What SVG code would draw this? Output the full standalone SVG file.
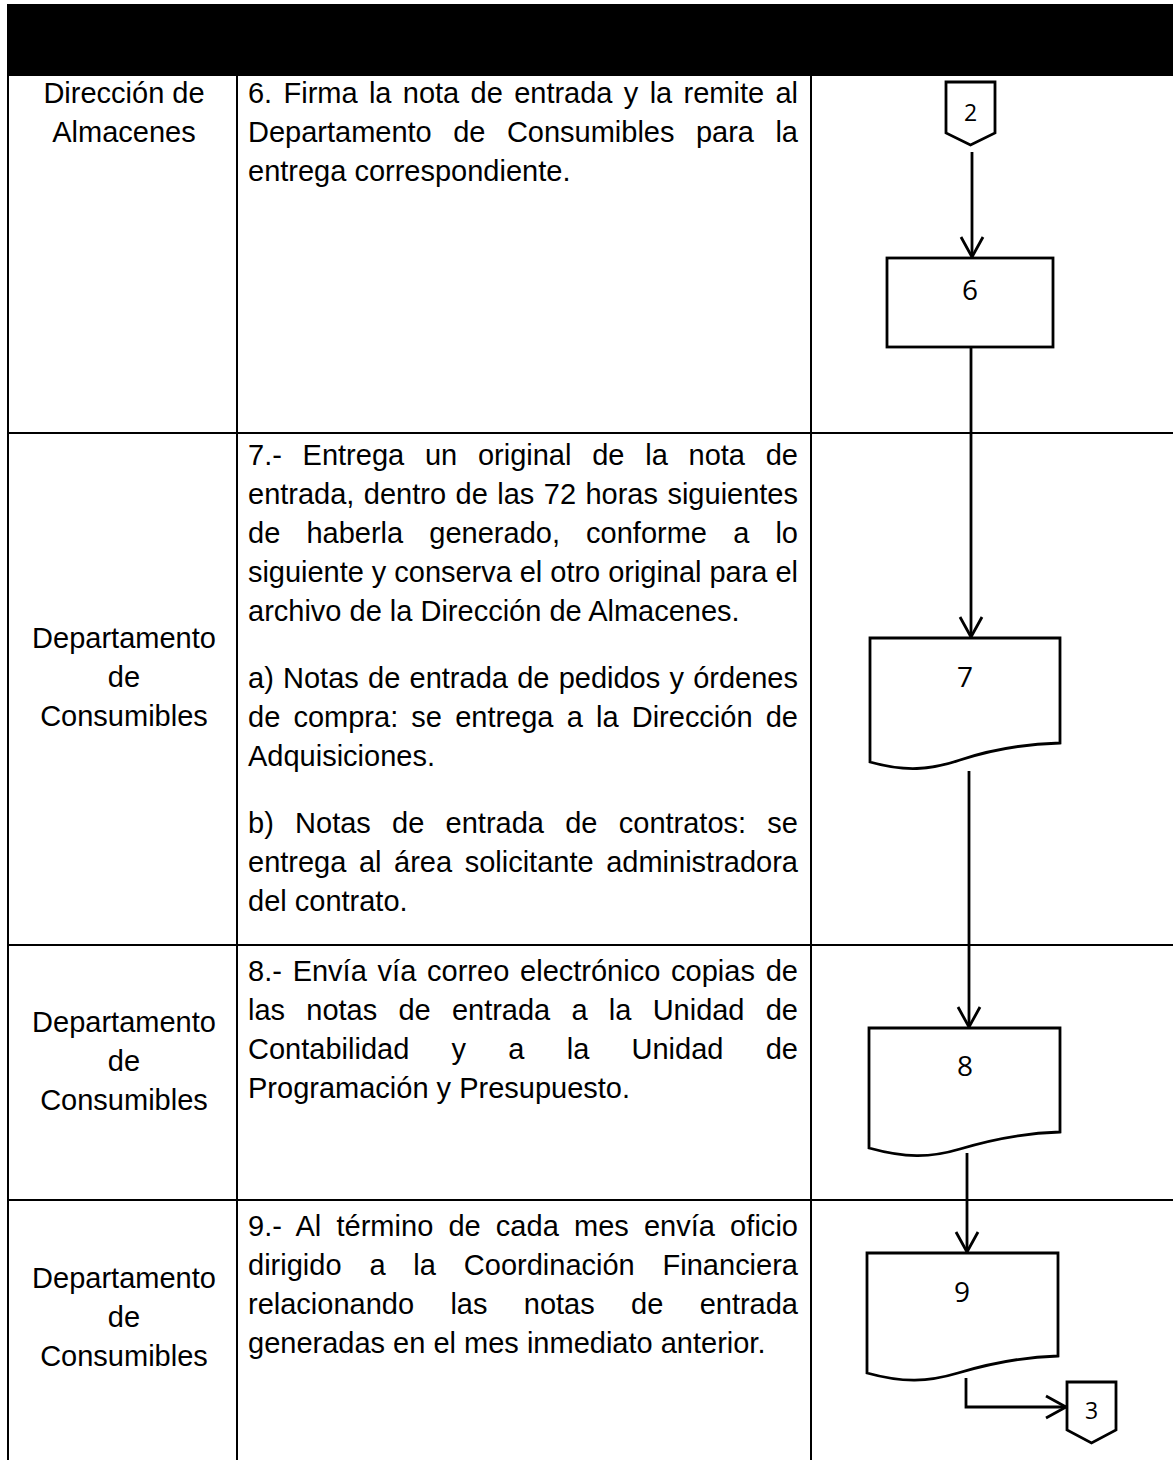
<svg xmlns="http://www.w3.org/2000/svg" width="1173" height="1460" viewBox="0 0 1173 1460">
<style>
.grid{stroke:#000;stroke-width:2;fill:none}
.t{font-family:"Liberation Sans",Arial,sans-serif;font-size:29px;fill:#000}
.lane{text-anchor:middle}
.shape{fill:#fff;stroke:#000;stroke-width:2.8}
.num{font-family:"Open Sans","Liberation Sans",sans-serif;font-size:28px;fill:#000;text-anchor:middle}
.cnum{font-family:"Open Sans","Liberation Sans",sans-serif;font-size:23px;fill:#000;text-anchor:middle}
.conn{fill:none;stroke:#000;stroke-width:2.8;marker-end:url(#arr)}
</style>
<defs>
<marker id="arr" markerUnits="userSpaceOnUse" viewBox="-23 -13 25 26" markerWidth="25" markerHeight="26" refX="0" refY="0" orient="auto">
<path d="M-20,-11 L0,0 L-20,11" fill="none" stroke="#000" stroke-width="2.8"/>
</marker>
</defs>
<rect width="1173" height="1460" fill="#fff"/>
<g id="table">
<rect x="7" y="4" width="1166" height="72" fill="#000"/>
<line class="grid" x1="8" y1="75" x2="8" y2="1460"/>
<line class="grid" x1="237" y1="75" x2="237" y2="1460"/>
<line class="grid" x1="811" y1="75" x2="811" y2="1460"/>
<line class="grid" x1="8" y1="433" x2="1173" y2="433"/>
<line class="grid" x1="8" y1="945" x2="1173" y2="945"/>
<line class="grid" x1="8" y1="1200" x2="1173" y2="1200"/>
</g>
<g id="row1-text">
<text class="t lane" x="124" y="103">Dirección de</text>
<text class="t lane" x="124" y="142">Almacenes</text>
<text class="t" x="248" y="103" word-spacing="3.3" textLength="550" lengthAdjust="spacing">6. Firma la nota de entrada y la remite al</text>
<text class="t" x="248" y="142" word-spacing="13.4" textLength="550" lengthAdjust="spacing">Departamento de Consumibles para la</text>
<text class="t" x="248" y="181">entrega correspondiente.</text>
</g>
<g id="row2-text">
<text class="t lane" x="124" y="648">Departamento</text>
<text class="t lane" x="124" y="687">de</text>
<text class="t lane" x="124" y="726">Consumibles</text>
<text class="t" x="248" y="465" word-spacing="12.7" textLength="550" lengthAdjust="spacing">7.- Entrega un original de la nota de</text>
<text class="t" x="248" y="504" word-spacing="1.4" textLength="550" lengthAdjust="spacing">entrada, dentro de las 72 horas siguientes</text>
<text class="t" x="248" y="543" word-spacing="18.1" textLength="550" lengthAdjust="spacing">de haberla generado, conforme a lo</text>
<text class="t" x="248" y="582" textLength="550" lengthAdjust="spacing">siguiente y conserva el otro original para el</text>
<text class="t" x="248" y="621">archivo de la Dirección de Almacenes.</text>
<text class="t" x="248" y="688" word-spacing="1.2" textLength="550" lengthAdjust="spacing">a) Notas de entrada de pedidos y órdenes</text>
<text class="t" x="248" y="727" word-spacing="5.1" textLength="550" lengthAdjust="spacing">de compra: se entrega a la Dirección de</text>
<text class="t" x="248" y="766">Adquisiciones.</text>
<text class="t" x="248" y="833" word-spacing="13.2" textLength="550" lengthAdjust="spacing">b) Notas de entrada de contratos: se</text>
<text class="t" x="248" y="872" word-spacing="4.5" textLength="550" lengthAdjust="spacing">entrega al área solicitante administradora</text>
<text class="t" x="248" y="911">del contrato.</text>
</g>
<g id="row3-text">
<text class="t lane" x="124" y="1032">Departamento</text>
<text class="t lane" x="124" y="1071">de</text>
<text class="t lane" x="124" y="1110">Consumibles</text>
<text class="t" x="248" y="981" word-spacing="2.75" textLength="550" lengthAdjust="spacing">8.- Envía vía correo electrónico copias de</text>
<text class="t" x="248" y="1020" word-spacing="13.2" textLength="550" lengthAdjust="spacing">las notas de entrada a la Unidad de</text>
<text class="t" x="248" y="1059" word-spacing="34.2" textLength="550" lengthAdjust="spacing">Contabilidad y a la Unidad de</text>
<text class="t" x="248" y="1098">Programación y Presupuesto.</text>
</g>
<g id="row4-text">
<text class="t lane" x="124" y="1288">Departamento</text>
<text class="t lane" x="124" y="1327">de</text>
<text class="t lane" x="124" y="1366">Consumibles</text>
<text class="t" x="248" y="1236" word-spacing="7" textLength="550" lengthAdjust="spacing">9.- Al término de cada mes envía oficio</text>
<text class="t" x="248" y="1275" word-spacing="19.8" textLength="550" lengthAdjust="spacing">dirigido a la Coordinación Financiera</text>
<text class="t" x="248" y="1314" word-spacing="28.3" textLength="550" lengthAdjust="spacing">relacionando las notas de entrada</text>
<text class="t" x="248" y="1353">generadas en el mes inmediato anterior.</text>
</g>
<g id="connectors">
<line class="conn" x1="972" y1="152" x2="972" y2="257"/>
<line class="conn" x1="971" y1="348" x2="971" y2="637"/>
<line class="conn" x1="969" y1="771" x2="969" y2="1027"/>
<line class="conn" x1="967" y1="1153" x2="967" y2="1252"/>
<polyline class="conn" points="966,1378 966,1407 1066,1407"/>
</g>
<g id="node-c2">
<path class="shape" d="M946,82 H995 V133 L970.5,145 L946,133 Z"/>
<text class="cnum" x="970.5" y="121">2</text>
</g>
<g id="node-6">
<rect class="shape" x="887" y="258" width="166" height="89"/>
<text class="num" x="970" y="300">6</text>
</g>
<g id="node-7">
<path class="shape" d="M870,638 H1060 V743 C1025,744 990,750 960,760 C930,770 905,772 870,762 Z"/>
<text class="num" x="965" y="687">7</text>
</g>
<g id="node-8">
<path class="shape" d="M869,1028 H1060 V1132 C1025,1133 990,1140 960,1149 C930,1158 905,1158 869,1148 Z"/>
<text class="num" x="965" y="1076">8</text>
</g>
<g id="node-9">
<path class="shape" d="M867,1253 H1058 V1356 C1023,1357 988,1364 958,1373 C928,1382 903,1383 867,1373 Z"/>
<text class="num" x="962" y="1302">9</text>
</g>
<g id="node-c3">
<path class="shape" d="M1067,1382 H1116 V1430 L1091.5,1443 L1067,1430 Z"/>
<text class="cnum" x="1091.5" y="1419">3</text>
</g>
</svg>
